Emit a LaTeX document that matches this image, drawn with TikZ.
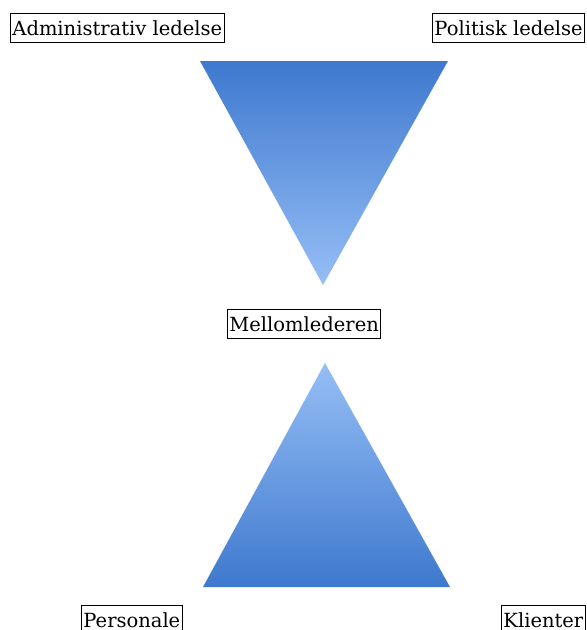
\documentclass[tikz,border=0pt]{standalone}
\usepackage{fontspec}
\setmainfont{DejaVu Serif}
\definecolor{triDark}{RGB}{62,121,206}
\definecolor{triLight}{RGB}{150,190,246}
\tikzset{rolle/.style={draw,line width=0.9pt,anchor=north west,inner xsep=2pt,inner ysep=0pt,
    minimum height=29pt,font=\fontsize{19.5}{22}\selectfont}}

\begin{document}
\begin{tikzpicture}[x=1pt,y=-1pt]
    \useasboundingbox (0,0) rectangle (587,630);
    \clip (0,0) rectangle (587,630);
    % upper triangle (points down)
    \shade[top color=triDark,bottom color=triLight] (200,61)--(448,61)--(323,285)--cycle;
    % lower triangle (points up)
    \shade[top color=triLight,bottom color=triDark] (325,363)--(450,587)--(203,587)--cycle;
    % labels
    \node[rolle] (adm) at (10,13){Administrativ ledelse};
    \node[rolle] (pol) at (432,13){Politisk ledelse};
    \node[rolle] (mel) at (227,309){Mellomlederen};
    \node[rolle] (per) at (81,605){Personale};
    \node[rolle] (kli) at (501,605){Klienter};
\end{tikzpicture}
\end{document}
